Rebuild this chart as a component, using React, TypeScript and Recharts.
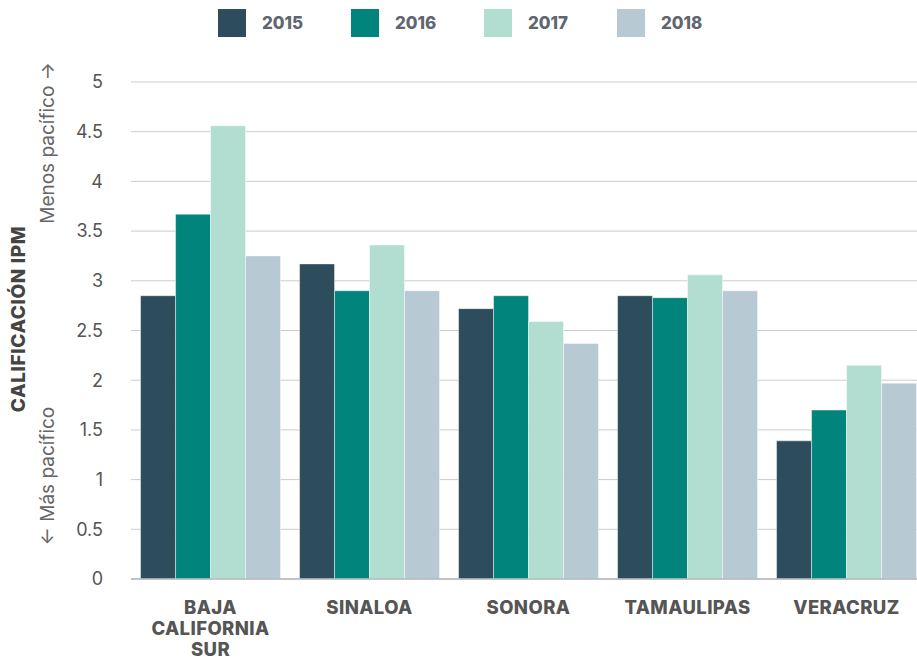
import { BarChart, Bar, XAxis, YAxis, CartesianGrid, Legend } from "recharts";

const states = ["BAJA CALIFORNIA SUR", "SINALOA", "SONORA", "TAMAULIPAS", "VERACRUZ"];
const y2015 = [2.85, 3.17, 2.72, 2.85, 1.39];
const y2016 = [3.67, 2.9, 2.85, 2.83, 1.7];
const y2017 = [4.56, 3.36, 2.59, 3.06, 2.15];
const y2018 = [3.25, 2.9, 2.37, 2.9, 1.97];
const yTicks = [0, 0.5, 1, 1.5, 2, 2.5, 3, 3.5, 4, 4.5, 5];

const series = [
  { key: "2015", color: "#2d4d5c" },
  { key: "2016", color: "#00847b" },
  { key: "2017", color: "#b1ded1" },
  { key: "2018", color: "#b7c9d3" },
];

const data = states.map((s, i) => ({
  name: s,
  "2015": y2015[i],
  "2016": y2016[i],
  "2017": y2017[i],
  "2018": y2018[i],
}));

const FONT = "Inter, 'Noto Sans', sans-serif";
const LEGEND_H = 46;

function StateTick({ x, y, payload }: any) {
  const lines: string[] =
    payload.value === "BAJA CALIFORNIA SUR" ? ["BAJA", "CALIFORNIA", "SUR"] : [payload.value];
  return (
    <text
      x={x}
      y={y}
      textAnchor="middle"
      fill="#555"
      fontSize={18.5}
      fontWeight={800}
      letterSpacing={0.4}
      fontFamily={FONT}
    >
      {lines.map((l, i) => (
        <tspan key={l} x={x} dy={i === 0 ? 27 : 21}>
          {l}
        </tspan>
      ))}
    </text>
  );
}

function AxisTitles() {
  return (
    <g fontFamily={FONT}>
      <text
        transform="translate(25,319) rotate(-90)"
        textAnchor="middle"
        fill="#444"
        fontSize={19}
        fontWeight={800}
        letterSpacing={0.6}
      >
        CALIFICACIÓN IPM
      </text>
      <text
        transform="translate(54,143) rotate(-90)"
        textAnchor="middle"
        fill="#666"
        fontSize={19}
      >
        Menos pacífico →
      </text>
      <text
        transform="translate(54,476) rotate(-90)"
        textAnchor="middle"
        fill="#666"
        fontSize={19}
      >
        ← Más pacífico
      </text>
    </g>
  );
}

function LegendBox() {
  return (
    <div
      style={{
        display: "flex",
        paddingLeft: 218,
        height: LEGEND_H,
        alignItems: "center",
        fontFamily: FONT,
      }}
    >
      {series.map((s) => (
        <div key={s.key} style={{ display: "flex", alignItems: "center", width: 133 }}>
          <span style={{ width: 28, height: 28, background: s.color, display: "inline-block" }} />
          <span style={{ marginLeft: 16, fontSize: 17, fontWeight: 800, color: "#5f6670" }}>
            {s.key}
          </span>
        </div>
      ))}
    </div>
  );
}

export default function App() {
  return (
    <div
      style={{
        position: "absolute",
        top: 0,
        left: 0,
        width: 917,
        height: 659,
        overflow: "hidden",
        background: "#fff",
      }}
    >
      <BarChart
        width={936}
        height={659}
        data={data}
        margin={{ top: 82 - LEGEND_H, right: 10, bottom: 0, left: 0 }}
        barCategoryGap="6%"
        barGap={0}
      >
        <Legend
          verticalAlign="top"
          align="left"
          content={() => <LegendBox />}
          wrapperStyle={{ top: 0, left: 0, width: 917, height: LEGEND_H }}
        />
        <CartesianGrid vertical={false} stroke="#cccccc" />
        <XAxis
          dataKey="name"
          height={80}
          tickLine={false}
          axisLine={{ stroke: "#b5b9bd", strokeWidth: 1.5 }}
          tick={<StateTick />}
          interval={0}
        />
        <YAxis
          width={131}
          domain={[0, 5]}
          ticks={yTicks}
          tickLine={false}
          axisLine={false}
          tickSize={0}
          tickMargin={28}
          tick={{ fill: "#555", fontSize: 18, fontFamily: FONT }}
          label={{ content: () => <AxisTitles /> }}
        />
        {series.map((s) => (
          <Bar
            key={s.key}
            dataKey={s.key}
            fill={s.color}
            stroke="rgba(255,255,255,0.45)"
            strokeWidth={1}
            isAnimationActive={false}
          />
        ))}
      </BarChart>
    </div>
  );
}
